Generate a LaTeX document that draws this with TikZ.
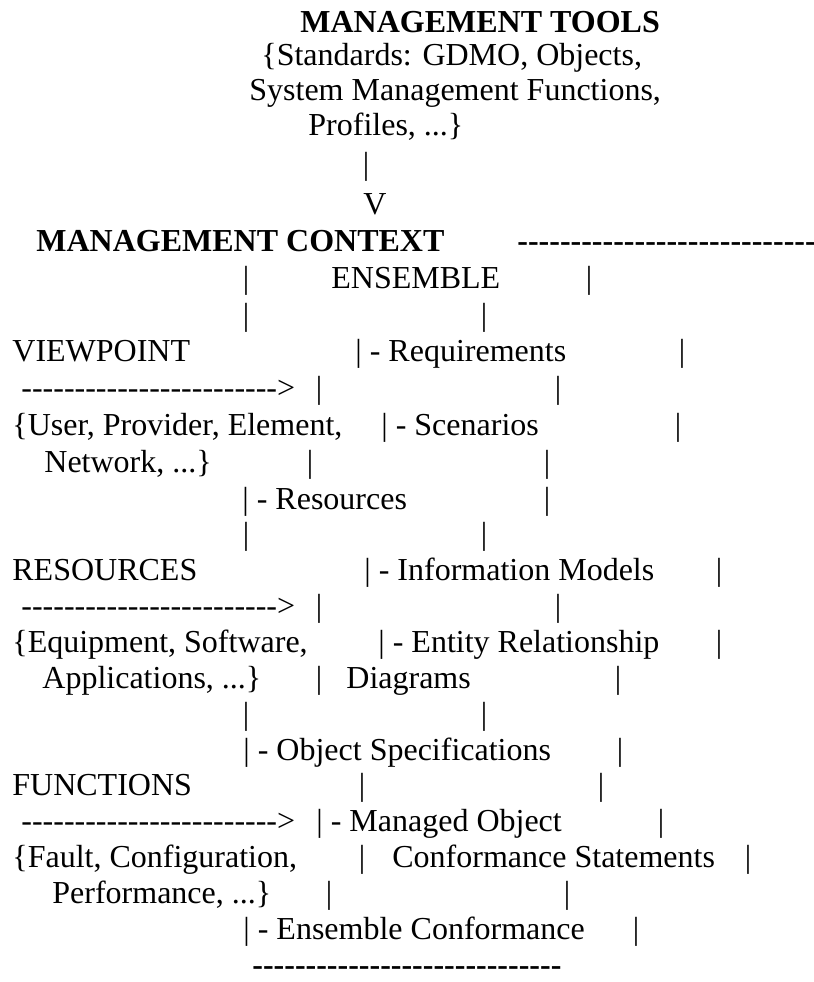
\documentclass[tikz,border=0pt]{standalone}
\usepackage{fontspec}
\setmainfont{Liberation Serif}
\newcommand\hyph[1]{\foreach\i in {1,...,#1}{-\kern0pt}}
\tikzset{
 txt/.style={anchor=base west, inner sep=0pt, font=\fontsize{16}{19}\selectfont},
 bld/.style={anchor=base west, inner sep=0pt, font=\fontsize{16}{19}\selectfont\bfseries},
 vbar/.style={anchor=base, inner sep=0pt, font=\fontsize{16}{19}\selectfont},
}
\begin{document}
\begin{tikzpicture}[x=0.5pt,y=-0.5pt]
\useasboundingbox[fill=white] (0,0) rectangle (814,982);
% row 1-6
\node[bld] (r1) at (300,32) {MANAGEMENT TOOLS};
\node[txt] (r2) at (261,65.5) {\{Standards: GDMO, Objects,};
\node[txt] (r3) at (249,100) {System Management Functions,};
\node[txt] (r4) at (308,135) {Profiles, ...\}};
\node[vbar] (r5) at (366,174) {|};
\node[txt] (r6) at (363,214) {V};
% row 7
\node[bld] (r7a) at (36,251) {MANAGEMENT CONTEXT};
\node[bld] (r7b) at (517,251) {\hyph{28}};
% row 8
\node[vbar] (r8a) at (246,288) {|};
\node[txt] (r8b) at (331,288) {ENSEMBLE};
\node[vbar] (r8c) at (589,288) {|};
% row 9
\node[vbar] (r9a) at (246,325) {|};
\node[vbar] (r9b) at (484,325) {|};
% row 10
\node[txt] (r10a) at (12,361) {VIEWPOINT};
\node[txt] (r10b) at (355,361) {| - Requirements};
\node[vbar] (r10c) at (682,361) {|};
% row 11
\node[txt] (r11a) at (21,398) {\hyph{24}>};
\node[vbar] (r11b) at (319,398) {|};
\node[vbar] (r11c) at (558,398) {|};
% row 12
\node[txt] (r12a) at (12,435) {\{User, Provider, Element,};
\node[txt] (r12b) at (381,435) {| - Scenarios};
\node[vbar] (r12c) at (678,435) {|};
% row 13
\node[txt] (r13a) at (44,472) {Network, ...\}};
\node[vbar] (r13b) at (310,472) {|};
\node[vbar] (r13c) at (547,472) {|};
% row 14
\node[txt] (r14a) at (242,509) {| - Resources};
\node[vbar] (r14b) at (547,509) {|};
% row 15
\node[vbar] (r15a) at (246,544.8) {|};
\node[vbar] (r15b) at (484,544.8) {|};
% row 16
\node[txt] (r16a) at (12,580.7) {RESOURCES};
\node[txt] (r16b) at (364,580.7) {| - Information Models};
\node[vbar] (r16c) at (719,580.7) {|};
% row 17
\node[txt] (r17a) at (21,616.5) {\hyph{24}>};
\node[vbar] (r17b) at (319,616.5) {|};
\node[vbar] (r17c) at (558,616.5) {|};
% row 18
\node[txt] (r18a) at (12,652.4) {\{Equipment, Software,};
\node[txt] (r18b) at (378,652.4) {| - Entity Relationship};
\node[vbar] (r18c) at (719,652.4) {|};
% row 19
\node[txt] (r19a) at (42,688.2) {Applications, ...\}};
\node[vbar] (r19b) at (319,688.2) {|};
\node[txt] (r19c) at (346,688.2) {Diagrams};
\node[vbar] (r19d) at (618,688.2) {|};
% row 20
\node[vbar] (r20a) at (246,724.1) {|};
\node[vbar] (r20b) at (484,724.1) {|};
% row 21
\node[txt] (r21a) at (243,760) {| - Object Specifications};
\node[vbar] (r21b) at (620,760) {|};
% row 22
\node[txt] (r22a) at (12,795.8) {FUNCTIONS};
\node[vbar] (r22b) at (362,795.8) {|};
\node[vbar] (r22c) at (601,795.8) {|};
% row 23
\node[txt] (r23a) at (21,831.7) {\hyph{24}>};
\node[txt] (r23b) at (316,831.7) {| - Managed Object};
\node[vbar] (r23c) at (661,831.7) {|};
% row 24
\node[txt] (r24a) at (12,867.5) {\{Fault, Configuration,};
\node[vbar] (r24b) at (362,867.5) {|};
\node[txt] (r24c) at (392,867.5) {Conformance Statements};
\node[vbar] (r24d) at (748,867.5) {|};
% row 25
\node[txt] (r25a) at (52,903.4) {Performance, ...\}};
\node[vbar] (r25b) at (329,903.4) {|};
\node[vbar] (r25c) at (567,903.4) {|};
% row 26
\node[txt] (r26a) at (243,939.2) {| - Ensemble Conformance};
\node[vbar] (r26b) at (636,939.2) {|};
% row 27
\node[bld] (r27) at (252,975) {\hyph{29}};
\end{tikzpicture}
\end{document}
